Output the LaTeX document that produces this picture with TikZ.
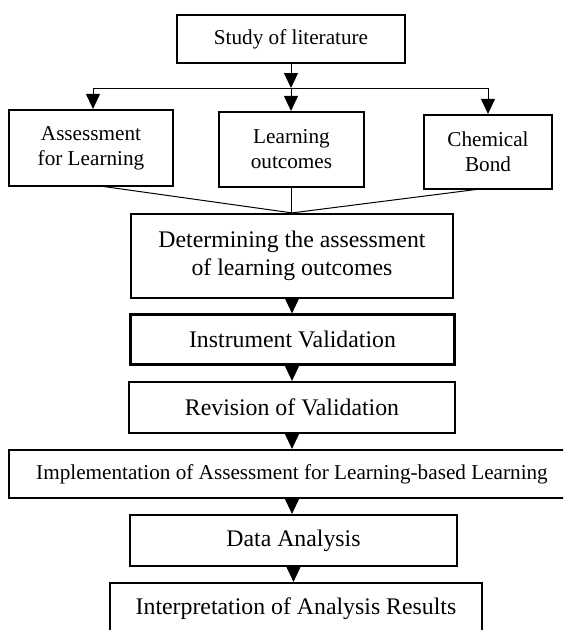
\documentclass[tikz,border=0pt]{standalone}
\usepackage{fontspec}
\setmainfont{Liberation Serif}
\usetikzlibrary{arrows.meta}
\begin{document}
\begin{tikzpicture}[x=1pt,y=1pt,
  box/.style={draw, line width=2.2pt, align=center, inner sep=0pt, font=\fontsize{23.8}{28}\selectfont},
  smallbox/.style={box, font=\fontsize{21.2}{25}\selectfont},
  conn/.style={line width=1pt},
  arr/.style={conn, -{Triangle[length=15pt,width=14pt]}}]
\clip (0,0) rectangle (563,-630);
\node[smallbox, minimum width=228pt, minimum height=48pt] (study) at (291,-39) {Study of literature};
\node[smallbox, minimum width=164pt, minimum height=76pt] (afl) at (91,-148) {Assessment\\for Learning};
\node[smallbox, minimum width=145pt, minimum height=75pt] (lo) at (291.5,-149.5) {Learning\\outcomes};
\node[smallbox, minimum width=128pt, minimum height=74pt] (cb) at (488,-152) {Chemical\\Bond};
\node[box, minimum width=322pt, minimum height=84pt] (det) at (292,-256) {Determining the assessment\\of learning outcomes};
\node[box, minimum width=324pt, minimum height=50pt] (inst) at (292.5,-339.5) {Instrument Validation};
\node[box, minimum width=326pt, minimum height=51pt] (rev) at (292,-407.5) {Revision of Validation};
\node[smallbox, minimum width=566pt, minimum height=48pt] (impl) at (292,-474) {Implementation of Assessment for Learning-based Learning};
\node[box, minimum width=327pt, minimum height=51pt] (data) at (293.5,-540.5) {Data Analysis};
\node[box, minimum width=372pt, minimum height=52pt] (interp) at (296,-609) {Interpretation of Analysis Results};
% top split
\coordinate (j) at (291,-88);
\coordinate (jl) at (93,-88);
\coordinate (jr) at (488,-88);
\draw[arr] (study.south) -- (j);
\draw[conn] (jl) -- (jr);
\draw[arr] (jl) -- (jl |- afl.north);
\draw[arr] (j) -- (j |- lo.north);
\draw[arr] (jr) -- (jr |- cb.north);
% converge
\coordinate (al) at (100,-186);
\coordinate (cr) at (480,-189);
\draw[conn] (al) -- (det.north);
\draw[conn] (lo.south) -- (lo.south |- det.north);
\draw[conn] (cr) -- (det.north);
% vertical chain
\draw[arr] (det.south) -- (det.south |- inst.north);
\draw[arr] (det.south |- inst.south) -- (det.south |- rev.north);
\draw[arr] (rev.south) -- (rev.south |- impl.north);
\draw[arr] (rev.south |- impl.south) -- (rev.south |- data.north);
\draw[arr] (data.south) -- (data.south |- interp.north);
\end{tikzpicture}
\end{document}
